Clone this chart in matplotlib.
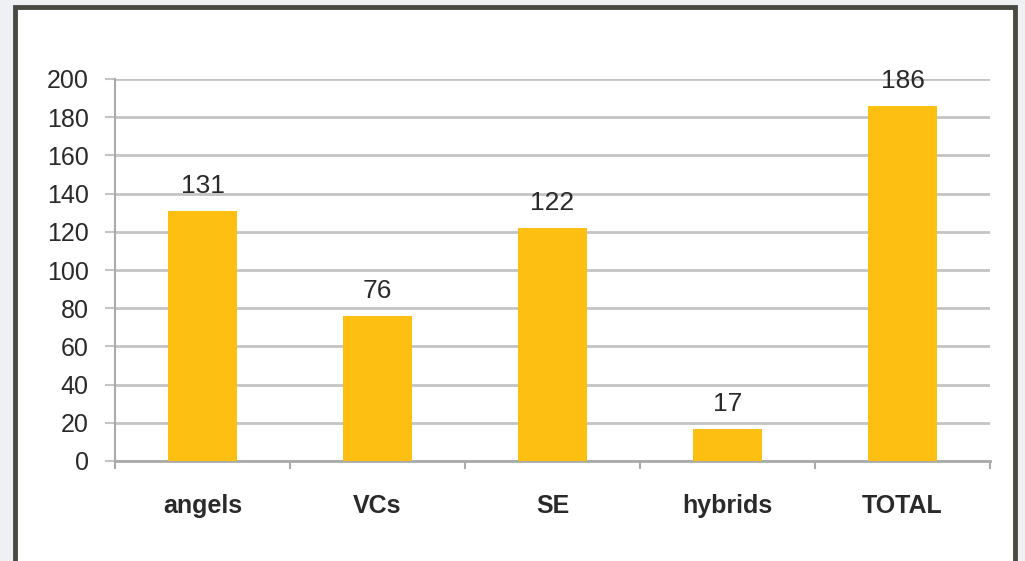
import matplotlib
matplotlib.use("Agg")
import matplotlib.pyplot as plt
from matplotlib.patches import Rectangle

categories = ["angels", "VCs", "SE", "hybrids", "TOTAL"]
values = [131, 76, 122, 17, 186]
yticks = [0, 20, 40, 60, 80, 100, 120, 140, 160, 180, 200]

plt.rcParams['font.family'] = ['Liberation Sans', 'DejaVu Sans']

fig = plt.figure(figsize=(10.25, 5.61), dpi=100)
fig.patch.set_facecolor('#eef0f3')
W, H = 1025, 561
border = Rectangle((15 / W, -0.02), (1000) / W, (561 - 8 + 12) / H,
                   transform=fig.transFigure, facecolor='white',
                   edgecolor='#4a4a42', linewidth=3.5, zorder=-10)
fig.patches.append(border)

ax = fig.add_axes([115 / W, 1 - 461 / H, (990 - 115) / W, (461 - 79) / H])
ax.set_zorder(5)
ax.set_facecolor('none')
x = list(range(len(categories)))
ax.bar(x, values, width=0.39, color='#FDBF12', zorder=3)
ax.set_xlim(-0.5, len(categories) - 0.5)
ax.set_ylim(0, 200)
ax.set_yticks(yticks)
ax.set_yticklabels([str(t) for t in yticks], fontsize=18, color='#2a2a2a')
ax.yaxis.grid(True, color='#c4c4c4', linewidth=2, zorder=0)
ax.set_axisbelow(True)

ax.set_xticks(x)
ax.set_xticklabels(categories, fontsize=18, fontweight='bold', color='#2a2a2a')
ax.tick_params(axis='x', length=0, pad=24)
ax.set_xticks([i - 0.5 for i in range(len(categories) + 1)], minor=True)
ax.tick_params(axis='x', which='minor', length=6, width=1.5, color='#aaaaaa', direction='out')
ax.tick_params(axis='y', length=7, width=1.5, color='#c4c4c4', pad=12)

for s in ['top', 'right']:
    ax.spines[s].set_visible(False)
ax.spines['left'].set_color('#aaaaaa')
ax.spines['left'].set_linewidth(1.5)
ax.spines['bottom'].set_color('#aaaaaa')
ax.spines['bottom'].set_linewidth(2)

for xi, v in zip(x, values):
    ax.annotate(str(v), (xi, v), xytext=(0, 9), textcoords='offset points',
                ha='center', va='bottom', fontsize=19, color='#2a2a2a')

fig.savefig("out.png", dpi=100, facecolor=fig.get_facecolor())
